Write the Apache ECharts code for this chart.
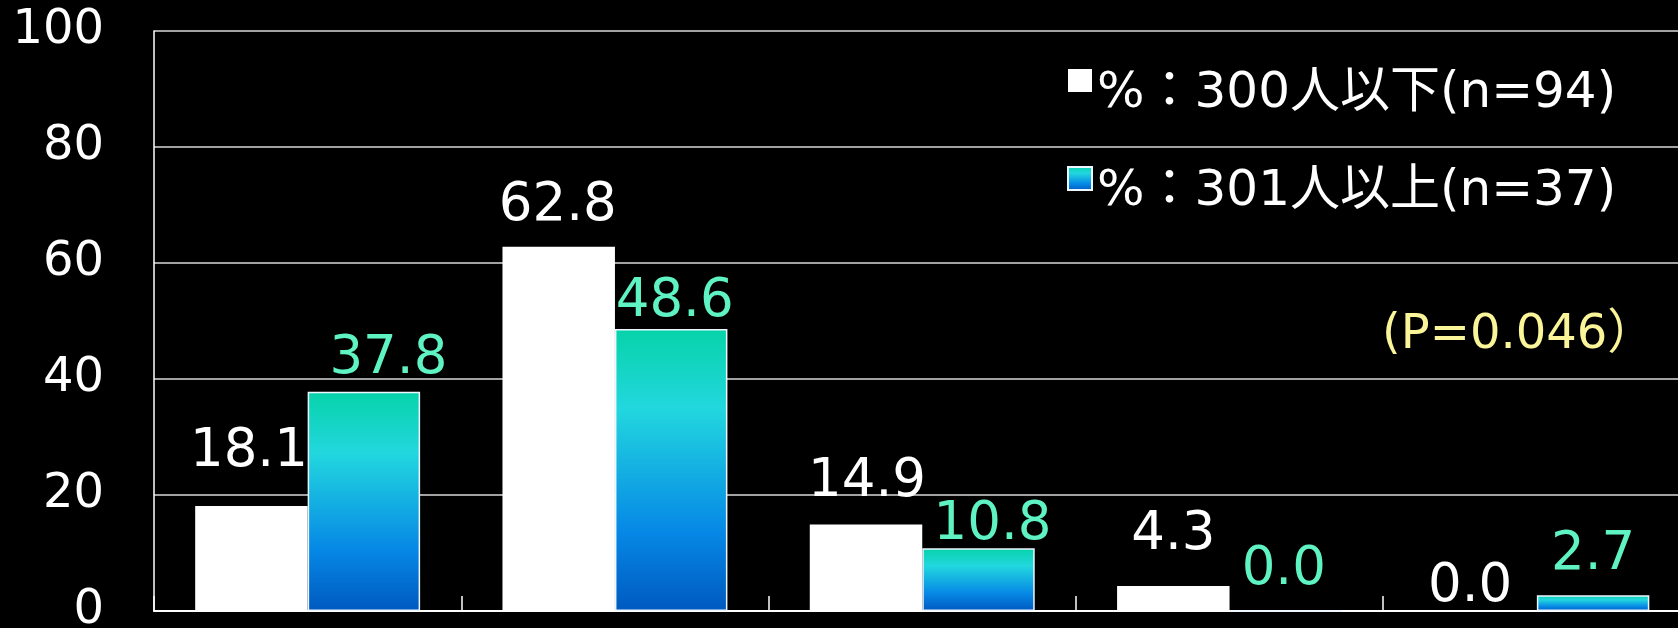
<!DOCTYPE html>
<html>
<head>
<meta charset="utf-8">
<script src="https://cdn.jsdelivr.net/npm/echarts@6/dist/echarts.min.js"></script>
<style>
  html, body { margin: 0; padding: 0; background: #000; }
  #chart { width: 1678px; height: 628px; }
</style>
</head>
<body>
<div id="chart"></div>
<script>
// Response groups (axis labels are not shown)
const categories = ['1', '2', '3', '4', '5'];

// Share (%) by company size
const smallCompanyName = '%：300人以下(n=94)';
const largeCompanyName = '%：301人以上(n=37)';
const smallCompanyValues = [18.1, 62.8, 14.9, 4.3, 0.0];
const largeCompanyValues = [37.8, 48.6, 10.8, 0.0, 2.7];

// Value axis
const yMin = 0;
const yMax = 100;
const yStep = 20;

const pValueText = '(P=0.046）';

// Hand-placed value labels: [dx, dy] nudges per bar
const smallLabelShift = [[-2.5, -27.5], [-1, -14], [1, -16], [0, -24], [-10.5, 2.5]];
const largeLabelShift = [[24.5, -6], [3.5, -0.5], [14, 3.5], [-2, -14], [0, -14]];

const numFont = '"DejaVu Sans", sans-serif';
const jpFont = '"DejaVu Sans", "Noto Sans CJK JP", sans-serif';

const blueFill = {
  type: 'linear', x: 0, y: 0, x2: 0, y2: 1,
  colorStops: [
    { offset: 0, color: '#06d3a9' },
    { offset: 0.28, color: '#22d7de' },
    { offset: 0.72, color: '#0688e6' },
    { offset: 1, color: '#0059bf' }
  ]
};

function withShift(values, shifts) {
  return values.map((v, i) => ({ value: v, label: { offset: shifts[i] } }));
}

const chart = echarts.init(document.getElementById('chart'), null, { renderer: 'canvas' });

chart.setOption({
  backgroundColor: '#000000',
  animation: false,
  grid: {
    left: 154, top: 31, width: 1536.5, height: 580,
    containLabel: false,
    outerBoundsMode: 'none'
  },
  legend: {
    orient: 'vertical',
    left: 1067,
    top: 41.5,
    padding: 0,
    itemWidth: 24,
    itemHeight: 23,
    itemGap: 20,
    icon: 'rect',
    selectedMode: false,
    formatter: name => '{t|' + name + '}',
    textStyle: {
      color: '#ffffff',
      fontFamily: jpFont,
      fontSize: 50,
      rich: {
        t: {
          color: '#ffffff',
          fontFamily: jpFont,
          fontSize: 50,
          lineHeight: 53,
          padding: [28, 0, 0, 0]
        }
      }
    },
    data: [smallCompanyName, largeCompanyName]
  },
  xAxis: {
    type: 'category',
    data: categories,
    boundaryGap: true,
    axisLine: { show: true, lineStyle: { color: '#ffffff', width: 2 } },
    axisTick: { show: true, inside: true, length: 15, lineStyle: { color: '#ffffff', width: 1.5 } },
    axisLabel: { show: false },
    splitLine: { show: false }
  },
  yAxis: {
    type: 'value',
    min: yMin,
    max: yMax,
    interval: yStep,
    axisLine: { show: true, lineStyle: { color: '#ffffff', width: 1.5 } },
    axisTick: { show: false },
    axisLabel: { color: '#ffffff', fontFamily: numFont, fontSize: 48, margin: 50 },
    splitLine: { show: true, lineStyle: { color: '#d9d9d9', width: 1.5 } }
  },
  series: [
    {
      name: smallCompanyName,
      type: 'bar',
      barWidth: '36.6%',
      barGap: '0%',
      itemStyle: { color: '#ffffff' },
      label: {
        show: true,
        position: 'top',
        distance: 0,
        color: '#ffffff',
        fontFamily: numFont,
        fontSize: 53,
        lineHeight: 53,
        formatter: p => p.value.toFixed(1)
      },
      data: withShift(smallCompanyValues, smallLabelShift)
    },
    {
      name: largeCompanyName,
      type: 'bar',
      barWidth: '36.6%',
      barGap: '0%',
      itemStyle: { color: blueFill, borderColor: '#eef6ff', borderWidth: 1.5 },
      label: {
        show: true,
        position: 'top',
        distance: 0,
        color: '#5ff3c3',
        fontFamily: numFont,
        fontSize: 53,
        lineHeight: 53,
        formatter: p => p.value.toFixed(1)
      },
      data: withShift(largeCompanyValues, largeLabelShift)
    }
  ],
  graphic: [
    {
      type: 'text',
      x: 1382,
      y: 336,
      style: {
        text: pValueText,
        fill: '#fbf59a',
        fontSize: 48,
        fontFamily: '"DejaVu Sans", "Noto Sans CJK JP", sans-serif',
        verticalAlign: 'middle'
      }
    }
  ]
});
</script>
</body>
</html>
